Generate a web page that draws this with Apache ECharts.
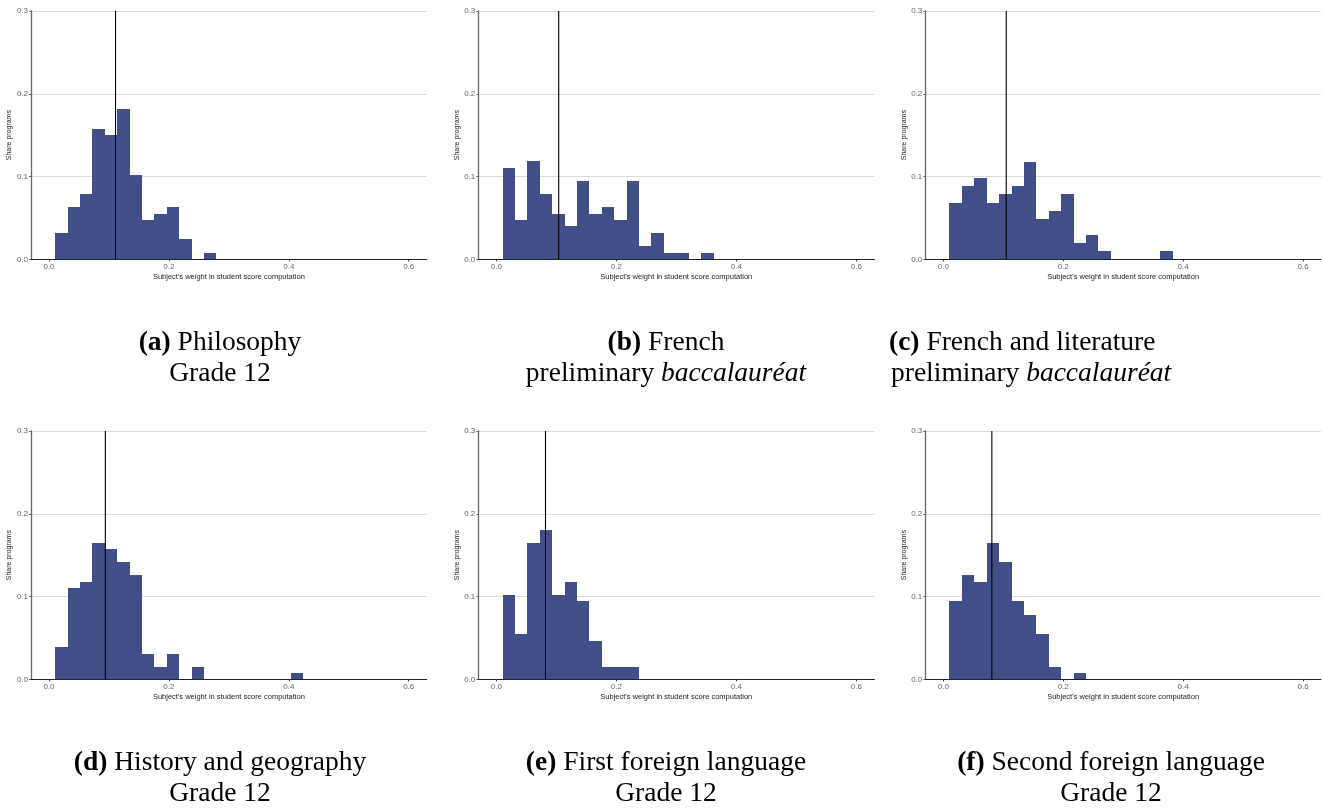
<!DOCTYPE html>
<html>
<head>
<meta charset="utf-8">
<script src="https://cdn.jsdelivr.net/npm/echarts@6/dist/echarts.min.js"></script>
<style>
html,body{margin:0;padding:0;background:#fff;}
#chart{width:1323px;height:811px;}
</style>
</head>
<body>
<div id="chart"></div>
<script>
// Histogram bins: centers at k * binWidth (k = 1, 2, ...)
const binWidth = 0.6 / 29;
const xTickValues = [0, 0.2, 0.4, 0.6];
const yTickLabels = ['0.0', '0.1', '0.2', '0.3'];

const philosophy    = [0.032,0.063,0.079,0.157,0.150,0.182,0.102,0.048,0.055,0.063,0.024,0,0.008];
const frenchPrelim  = [0.110,0.048,0.119,0.079,0.055,0.040,0.095,0.055,0.063,0.048,0.095,0.016,0.032,0.008,0.008,0,0.008];
const frenchLit     = [0.068,0.089,0.098,0.068,0.079,0.089,0.118,0.049,0.058,0.079,0.020,0.029,0.010,0,0,0,0,0.010];
const historyGeo    = [0.039,0.110,0.118,0.165,0.157,0.142,0.126,0.031,0.015,0.031,0,0.015,0,0,0,0,0,0,0,0.008];
const firstLang     = [0.102,0.055,0.165,0.180,0.102,0.118,0.095,0.046,0.015,0.015,0.015];
const secondLang    = [0.095,0.126,0.118,0.165,0.142,0.095,0.078,0.055,0.015,0,0.008];
const meanWeights   = [0.111,0.104,0.105,0.094,0.082,0.081];

const captionLine1 = ['{b|(a)} Philosophy','{b|(b)} French','{b|(c)} French and literature',
                      '{b|(d)} History and geography','{b|(e)} First foreign language','{b|(f)} Second foreign language'];
const captionLine2 = ['Grade 12','preliminary {i|baccalauréat}','preliminary {i|baccalauréat}',
                      'Grade 12','Grade 12','Grade 12'];

const xTitle = "Subject's weight in student score computation";
const yTitle = 'Share programs';

const panels = [philosophy, frenchPrelim, frenchLit, historyGeo, firstLang, secondLang];

const gridBoxes = [
  {left:31,    top:11,  width:395.7, height:248.3},
  {left:478.3, top:11,  width:396,   height:248.3},
  {left:925.3, top:11,  width:395.7, height:248.3},
  {left:31,    top:431, width:395.7, height:248.3},
  {left:478.3, top:431, width:396,   height:248.3},
  {left:925.3, top:431, width:395.7, height:248.3}
];
const captionPos = [
  {x:220,  y1:343, y2:374, align:'center'},
  {x:666,  y1:343, y2:374, align:'center'},
  {x:889,  y1:343, y2:374, align:'left'},
  {x:220,  y1:763, y2:794, align:'center'},
  {x:666,  y1:763, y2:794, align:'center'},
  {x:1111, y1:763, y2:794, align:'center'}
];

const BAR = '#424E88';
const sans = 'Liberation Sans, Arial, sans-serif';
const serif = 'Liberation Serif, Times New Roman, serif';
const CAP = 27.5;

const grids = [], xAxes = [], yAxes = [], series = [], graphics = [];

panels.forEach(function(vals, i){
  grids.push(Object.assign({containLabel:false}, gridBoxes[i]));
  xAxes.push({
    type:'value', gridIndex:i, min:-0.03, max:0.63,
    name:xTitle, nameLocation:'middle', nameGap:14,
    nameTextStyle:{fontFamily:sans, fontSize:7.5, color:'#222'},
    axisLine:{show:true, onZero:false, lineStyle:{color:'#222', width:1}},
    axisTick:{show:true, length:2, customValues:xTickValues, lineStyle:{color:'#333'}},
    axisLabel:{show:true, customValues:xTickValues, fontFamily:sans, fontSize:8, color:'#666', margin:3,
      formatter:function(v){return v.toFixed(1);}},
    splitLine:{show:false}
  });
  yAxes.push({
    type:'value', gridIndex:i, min:0, max:0.3, interval:0.1,
    name:yTitle, nameLocation:'middle', nameGap:17, nameRotate:90,
    nameTextStyle:{fontFamily:sans, fontSize:7, color:'#222'},
    axisLine:{show:true, onZero:false, lineStyle:{color:'#666', width:1.3}},
    axisTick:{show:true, length:2, lineStyle:{color:'#666'}},
    axisLabel:{fontFamily:sans, fontSize:8, color:'#666', margin:3,
      formatter:function(v){return yTickLabels[Math.round(v*10)];}},
    splitLine:{show:true, lineStyle:{color:'#dcdcdc', width:1}}
  });
  const data = [];
  vals.forEach(function(h, k){ if (h > 0) data.push([(k+1)*binWidth, h]); });
  series.push({
    type:'custom', xAxisIndex:i, yAxisIndex:i, data:data, z:2,
    renderItem:function(params, api){
      const c = api.value(0), h = api.value(1);
      const p1 = api.coord([c - binWidth/2, h]);
      const p2 = api.coord([c + binWidth/2, 0]);
      const x0 = Math.round(p1[0]), x1 = Math.round(p2[0]);
      const y0 = Math.round(p1[1]), y1 = Math.round(p2[1]);
      return {type:'rect', shape:{x:x0, y:y0, width:x1-x0, height:y1-y0},
        style:{fill:BAR}};
    }
  });
  series.push({
    type:'line', xAxisIndex:i, yAxisIndex:i, z:5, symbol:'none', silent:true,
    data:[[meanWeights[i],0],[meanWeights[i],0.3]],
    lineStyle:{color:'#000', width:1.1}
  });
  const cp = captionPos[i];
  const rich = {
    b:{fontFamily:serif, fontSize:CAP, fontWeight:'bold', fill:'#000'},
    i:{fontFamily:serif, fontSize:CAP, fontStyle:'italic', fill:'#000'}
  };
  graphics.push({type:'text', x:cp.x, y:cp.y1, style:{text:captionLine1[i], rich:rich, fontFamily:serif,
    fontSize:CAP, fill:'#000', align:cp.align, verticalAlign:'middle'}});
  graphics.push({type:'text', x:cp.x + (cp.align==='left'?2:0), y:cp.y2, style:{text:captionLine2[i], rich:rich, fontFamily:serif,
    fontSize:CAP, fill:'#000', align:cp.align, verticalAlign:'middle'}});
});

const chart = echarts.init(document.getElementById('chart'), null, {renderer:'canvas'});
chart.setOption({
  animation:false,
  backgroundColor:'#fff',
  grid:grids, xAxis:xAxes, yAxis:yAxes, series:series, graphic:graphics
});
</script>
</body>
</html>
